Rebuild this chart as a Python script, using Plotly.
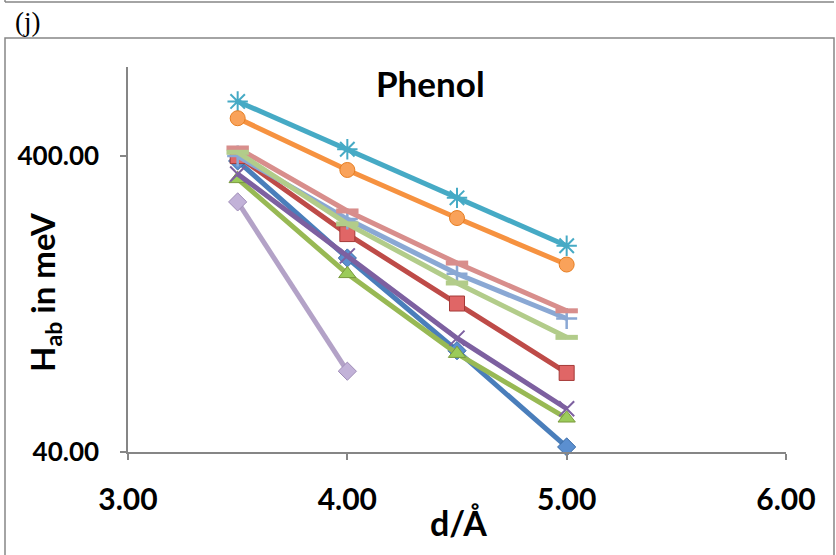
import plotly.graph_objects as go
import math

d = [3.5, 4.0, 4.5, 5.0]

s1 = [385, 181, 88, 41.6]     # blue diamond
s2 = [400, 218, 127, 74]      # red square
s3 = [335, 160, 86, 52]       # green triangle
s4 = [348, 184, 97, 56]       # purple x
s5 = [612, 422, 289, 199]     # aqua asterisk
s6 = [537, 359, 247, 172]     # orange circle
s7 = [400, 245, 160, 113]     # light blue plus
s8 = [426, 261, 174, 120]     # pink dash
s9 = [412, 236, 149, 97.6]    # light green dash
d10 = [3.5, 4.0]
s10 = [280, 75]               # lavender diamond

series = [
    (d, s1, "#4A7EBB", "diamond", 14, "#3A6BA5", 1, "#5B8FD0"),
    (d, s2, "#BE4B48", "square", 15, "#A53A38", 1, "#E06666"),
    (d, s3, "#98B954", "triangle-up", 15, "#7A9A3D", 1, "#9BCB5A"),
    (d, s4, "#7D60A0", "x-thin-open", 15, "#7D60A0", 2, None),
    (d, s5, "#46AAC5", "asterisk-open", 17, "#46AAC5", 2, None),
    (d, s6, "#F69240", "circle", 15, "#E67E22", 1, "#F9A25A"),
    (d, s7, "#8AA8D4", "cross-thin-open", 15, "#8AA8D4", 2.5, None),
    (d, s8, "#D88E8C", "line-ew-open", 16, "#D88E8C", 5, None),
    (d, s9, "#B2CC8A", "line-ew-open", 16, "#B2CC8A", 5, None),
    (d10, s10, "#B3A2C7", "diamond", 14, "#A08DB8", 1, "#C2B2D8"),
]

fig = go.Figure()
for xs, ys, col, sym, sz, lc, lw, fill in series:
    marker = dict(symbol=sym, size=sz, line=dict(color=lc, width=lw))
    marker["color"] = fill if fill is not None else col
    fig.add_trace(go.Scatter(
        x=xs, y=ys, mode="lines+markers",
        line=dict(color=col, width=5),
        marker=marker, cliponaxis=False, showlegend=False,
    ))

L, R, T, B = 128, 50, 67, 103
W, H = 836, 555
pw = W - L - R
ph = H - T - B

def px(x):
    return (x - L) / pw

def py(y):
    return (H - B - y) / ph

gray = "#868686"
shapes = [
    dict(type="line", xref="paper", yref="paper", x0=px(5), x1=px(834), y0=py(2), y1=py(2),
         line=dict(color=gray, width=1.5)),
    dict(type="line", xref="paper", yref="paper", x0=px(5), x1=px(5), y0=py(0), y1=py(2),
         line=dict(color=gray, width=1.5)),
    dict(type="rect", xref="paper", yref="paper", x0=px(5), x1=px(834), y0=py(38), y1=py(600),
         line=dict(color=gray, width=1.5)),
]

fig.update_layout(
    width=W, height=H,
    margin=dict(l=L, r=R, t=T, b=B, autoexpand=False),
    paper_bgcolor="white", plot_bgcolor="white",
    shapes=shapes,
    font=dict(family="Lato, Liberation Sans, sans-serif", color="black"),
    xaxis=dict(
        range=[3, 6], tickvals=[3, 4, 5, 6], ticktext=["<b>3.00</b>", "<b>4.00</b>", "<b>5.00</b>", "<b>6.00</b>"],
        showgrid=False, zeroline=False, showline=True, linecolor=gray, linewidth=1.5,
        ticks="outside", ticklen=6, tickcolor=gray, tickwidth=1.5,
        ticklabelstandoff=14, automargin=False,
        tickfont=dict(size=30, family="Lato"),
    ),
    yaxis=dict(
        type="log", range=[math.log10(40), math.log10(800)],
        tickvals=[40, 400], ticktext=["<b>40.00</b>", "<b>400.00</b>"],
        showgrid=False, zeroline=False, showline=True, linecolor=gray, linewidth=1.5,
        ticks="outside", ticklen=6, tickcolor=gray, tickwidth=1.5,
        ticklabelstandoff=16, automargin=False,
        tickfont=dict(size=26, family="Lato"),
    ),
    annotations=[
        dict(text="<b>Phenol</b>", xref="paper", yref="paper", x=px(430), y=py(83),
             showarrow=False, font=dict(size=35, family="Lato"), xanchor="center", yanchor="middle"),
        dict(text="(j)", xref="paper", yref="paper", x=px(13), y=py(22),
             showarrow=False, font=dict(size=27, family="Liberation Serif"), xanchor="left", yanchor="middle"),
        dict(text="<b>d/Å</b>", xref="paper", yref="paper", x=px(458), y=py(522),
             showarrow=False, font=dict(size=34, family="Lato"), xanchor="center", yanchor="middle"),
        dict(text="<b>H<sub>ab</sub> in meV</b>", xref="paper", yref="paper", x=px(44), y=py(292),
             showarrow=False, textangle=-90, font=dict(size=33, family="Lato"),
             xanchor="center", yanchor="middle"),
    ],
)

fig.write_html("out.html")
